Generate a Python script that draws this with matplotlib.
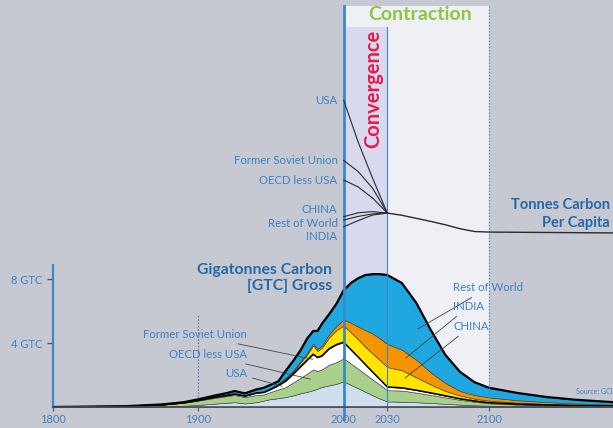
import numpy as np
import matplotlib
matplotlib.use("Agg")
import matplotlib.pyplot as plt

plt.rcParams['font.family'] = ['Lato', 'DejaVu Sans']

# --- gross emissions, GTC, stacked bottom -> top ---
years = [1800, 1850, 1875, 1890, 1900, 1910, 1920, 1925, 1932, 1940, 1945, 1950, 1955,
         1960, 1965, 1970, 1975, 1979, 1982, 1985, 1990, 1995, 2000,
         2005, 2010, 2015, 2020, 2025, 2030, 2040, 2050, 2060, 2070, 2080, 2090,
         2100, 2120, 2140, 2160, 2185]
usa = [0, 0.005, 0.03, 0.08, 0.13, 0.2, 0.27, 0.3, 0.22, 0.3, 0.4, 0.5, 0.55,
       0.62, 0.72, 0.85, 0.95, 1.05, 1.15, 1.25, 1.35, 1.45, 1.6,
       1.38, 1.17, 0.95, 0.73, 0.52, 0.35, 0.33, 0.3, 0.25, 0.2, 0.15, 0.11,
       0.08, 0.05, 0.035, 0.025, 0.015]
oecd = [0, 0.035, 0.11, 0.18, 0.27, 0.35, 0.42, 0.45, 0.4, 0.45, 0.38, 0.45, 0.55,
        0.62, 0.8, 0.95, 1.15, 1.3, 1.1, 1.1, 1.3, 1.35, 1.45,
        1.33, 1.22, 1.1, 0.98, 0.87, 0.7, 0.7, 0.6, 0.5, 0.4, 0.3, 0.22,
        0.15, 0.1, 0.07, 0.05, 0.035]
fsu = [0, 0, 0.005, 0.01, 0.02, 0.04, 0.04, 0.06, 0.07, 0.13, 0.14, 0.17, 0.25,
       0.38, 0.52, 0.7, 0.85, 0.95, 0.85, 0.85, 1.0, 1.1, 1.0,
       0.87, 0.73, 0.6, 0.47, 0.33, 0.2, 0.17, 0.15, 0.13, 0.1, 0.07, 0.05,
       0.04, 0.03, 0.02, 0.015, 0.01]
china = [0, 0, 0, 0, 0.005, 0.01, 0.01, 0.01, 0.01, 0.02, 0.01, 0.03, 0.06,
         0.15, 0.15, 0.25, 0.35, 0.55, 0.4, 0.5, 0.7, 0.9, 1.05,
         1.08, 1.1, 1.1, 1.15, 1.2, 1.25, 1.1, 0.8, 0.52, 0.3, 0.2, 0.14,
         0.13, 0.09, 0.07, 0.05, 0.035]
india = [0, 0, 0, 0.005, 0.01, 0.01, 0.02, 0.02, 0.02, 0.02, 0.02, 0.03, 0.04,
         0.05, 0.06, 0.08, 0.1, 0.12, 0.12, 0.14, 0.2, 0.27, 0.37,
         0.6, 0.8, 1.05, 1.25, 1.36, 1.44, 1.28, 1.1, 0.75, 0.5, 0.28, 0.23,
         0.2, 0.15, 0.11, 0.08, 0.055]
row = [0, 0.01, 0.015, 0.025, 0.045, 0.08, 0.12, 0.16, 0.13, 0.18, 0.25, 0.22, 0.15,
       0.43, 0.6, 0.67, 0.9, 0.78, 1.13, 1.36, 1.25, 1.38, 1.83,
       2.49, 3.03, 3.45, 3.72, 4.02, 4.31, 4.17, 3.55, 2.65, 1.75, 1.2, 0.8,
       0.6, 0.45, 0.315, 0.23, 0.155]

# --- tonnes carbon per capita ---
pc_years = [2000, 2010, 2020, 2030]
pc_usa = [5.35, 3.85, 2.55, 1.32]
pc_fsu = [3.2, 2.8, 2.2, 1.32]
pc_oecd = [2.5, 2.25, 1.85, 1.32]
pc_china = [1.19, 1.33, 1.37, 1.32]
pc_row = [1.07, 1.2, 1.29, 1.32]
pc_india = [0.83, 1.05, 1.25, 1.32]
conv_years = [2030, 2040, 2050, 2060, 2070, 2080, 2090, 2100, 2185]
pc_conv = [1.32, 1.24, 1.13, 1.02, 0.9, 0.76, 0.66, 0.64, 0.61]

xticks = [1800, 1900, 2000, 2030, 2100]
yticks = [4, 8]
ytick_labels = ['4 GTC', '8 GTC']

bg = '#c7c9d2'
lab_blue = '#3f80c2'
head_blue = '#2468a8'
line_blue = '#3b88c8'

W, H = 613, 428
fig = plt.figure(figsize=(W / 100, H / 100), dpi=100, facecolor=bg)
rect = [53 / W, 21 / H, 560 / W, 407 / H]
ax = fig.add_axes(rect)
ax.set_facecolor('none')
ax.set_xlim(1800, 2185.3)
ax.set_ylim(0, 407 / 16)

# bands
ax.axvspan(2000, 2100, ymin=0, ymax=401 / 407, color='#eff0f5', zorder=0, lw=0)
ax.axvspan(2000, 2030, ymin=0, ymax=380 / 407, color='#d8d9ee', zorder=0.5, lw=0)

layers = [usa, oecd, fsu, china, india, row]
colors = ['#cfdfee', '#a8d08c', '#ffffff', '#ffe400', '#f39400', '#1ea8df']
ax.stackplot(years, layers, colors=colors, edgecolor='#3a3a3a', linewidth=0.4, zorder=2)
cum = np.cumsum(np.array(layers), axis=0)
ax.plot(years, cum[2], color='black', lw=1.1, zorder=3)
ax.plot(years, cum[5], color='black', lw=1.6, zorder=3)

# vertical guides
ax.axvline(2000, ymin=-0.03, ymax=401 / 407, color=line_blue, lw=2, zorder=4, clip_on=False)
ax.axvline(2030, ymin=0, ymax=380 / 407, color=line_blue, lw=0.8, zorder=4)
ax.axvline(2100, ymin=0, ymax=401 / 407, color=line_blue, lw=0.9, ls=(0, (1, 1.5)), zorder=4)
ax.axvline(1900, ymin=0, ymax=92 / 407, color='#5577a0', lw=0.8, ls=(0, (1.5, 1.5)), zorder=1)

# axes styling
for s in ['top', 'right']:
    ax.spines[s].set_visible(False)
ax.spines['left'].set_color(line_blue)
ax.spines['left'].set_linewidth(1.6)
ax.spines['left'].set_bounds(0, 142 / 16)
ax.spines['bottom'].set_color('#4a4a55')
ax.spines['bottom'].set_linewidth(1.2)
ax.spines['bottom'].set_zorder(5)
ax.set_yticks(yticks)
ax.set_yticklabels(ytick_labels)
ax.tick_params(axis='y', colors='#555', labelcolor=lab_blue, length=4, width=1, pad=4, labelsize=8)
ax.set_xticks(xticks)
ax.set_xticklabels([str(t) for t in xticks])
ax.tick_params(axis='x', colors='#555', labelcolor=lab_blue, length=3, width=0.8, pad=2, labelsize=8)

# area labels with leaders
lead = dict(arrowstyle='-', color='#444444', lw=0.6)
fs = 8.2
ax.annotate('Former Soviet Union', xy=(1980.5, 2.95), xytext=(1933.5, 4.5),
            ha='right', va='center', color=lab_blue, fontsize=fs, arrowprops=lead, zorder=6)
ax.annotate('OECD less USA', xy=(1979, 1.7), xytext=(1933.5, 3.25),
            ha='right', va='center', color=lab_blue, fontsize=fs, arrowprops=lead, zorder=6)
ax.annotate('USA', xy=(1959.5, 1.25), xytext=(1933.5, 2.1),
            ha='right', va='center', color=lab_blue, fontsize=fs, arrowprops=lead, zorder=6)
ax.annotate('Rest of World', xy=(2049.5, 4.8), xytext=(2075.5, 7.45),
            ha='left', va='center', color=lab_blue, fontsize=fs, arrowprops=lead, zorder=6)
ax.annotate('INDIA', xy=(2041.3, 2.95), xytext=(2075.5, 6.3),
            ha='left', va='center', color=lab_blue, fontsize=fs, arrowprops=lead, zorder=6)
ax.annotate('CHINA', xy=(2040.6, 1.7), xytext=(2075.5, 5.05),
            ha='left', va='center', color=lab_blue, fontsize=fs, arrowprops=lead, zorder=6)
ax.text(2159.5, 0.95, 'Source: GCI', color=lab_blue, fontsize=5, ha='left', va='center')

# per-capita panel
ax2 = fig.add_axes(rect, sharex=ax)
ax2.set_facecolor('none')
ax2.axis('off')
ax2.set_ylim(-157 / 28, 250 / 28)
for vals in [pc_usa, pc_fsu, pc_oecd, pc_china, pc_row, pc_india]:
    ax2.plot(pc_years, vals, color='#2a2a2a', lw=0.8, zorder=5)
ax2.plot(conv_years, pc_conv, color='#2a2a2a', lw=1.0, zorder=5)
pc_labels = [('USA', pc_usa[0]), ('Former Soviet Union', pc_fsu[0]), ('OECD less USA', pc_oecd[0]),
             ('CHINA', 1.43), ('Rest of World', 0.96), ('INDIA', 0.5)]
for name, yv in pc_labels:
    ax2.text(1995.8, yv, name, ha='right', va='center', color=lab_blue, fontsize=fs)

# headings
fig.text(420 / W, 1 - 14 / H, 'Contraction', color='#8cc63e', fontsize=14,
         fontweight='bold', ha='center', va='center')
fig.text(373 / W, 1 - 89 / H, 'Convergence', color='#e8194b', fontsize=14.5,
         fontweight='bold', ha='center', va='center', rotation=90)
fig.text(332 / W, 1 - 278 / H, 'Gigatonnes Carbon\n[GTC] Gross', color=head_blue, fontsize=11.3,
         fontweight='bold', ha='right', va='center', multialignment='right', linespacing=1.25)
fig.text(610 / W, 1 - 214 / H, 'Tonnes Carbon\nPer Capita', color=head_blue, fontsize=10.5,
         fontweight='bold', ha='right', va='center', multialignment='right', linespacing=1.3)

fig.savefig('out.png', dpi=100, facecolor=bg)
